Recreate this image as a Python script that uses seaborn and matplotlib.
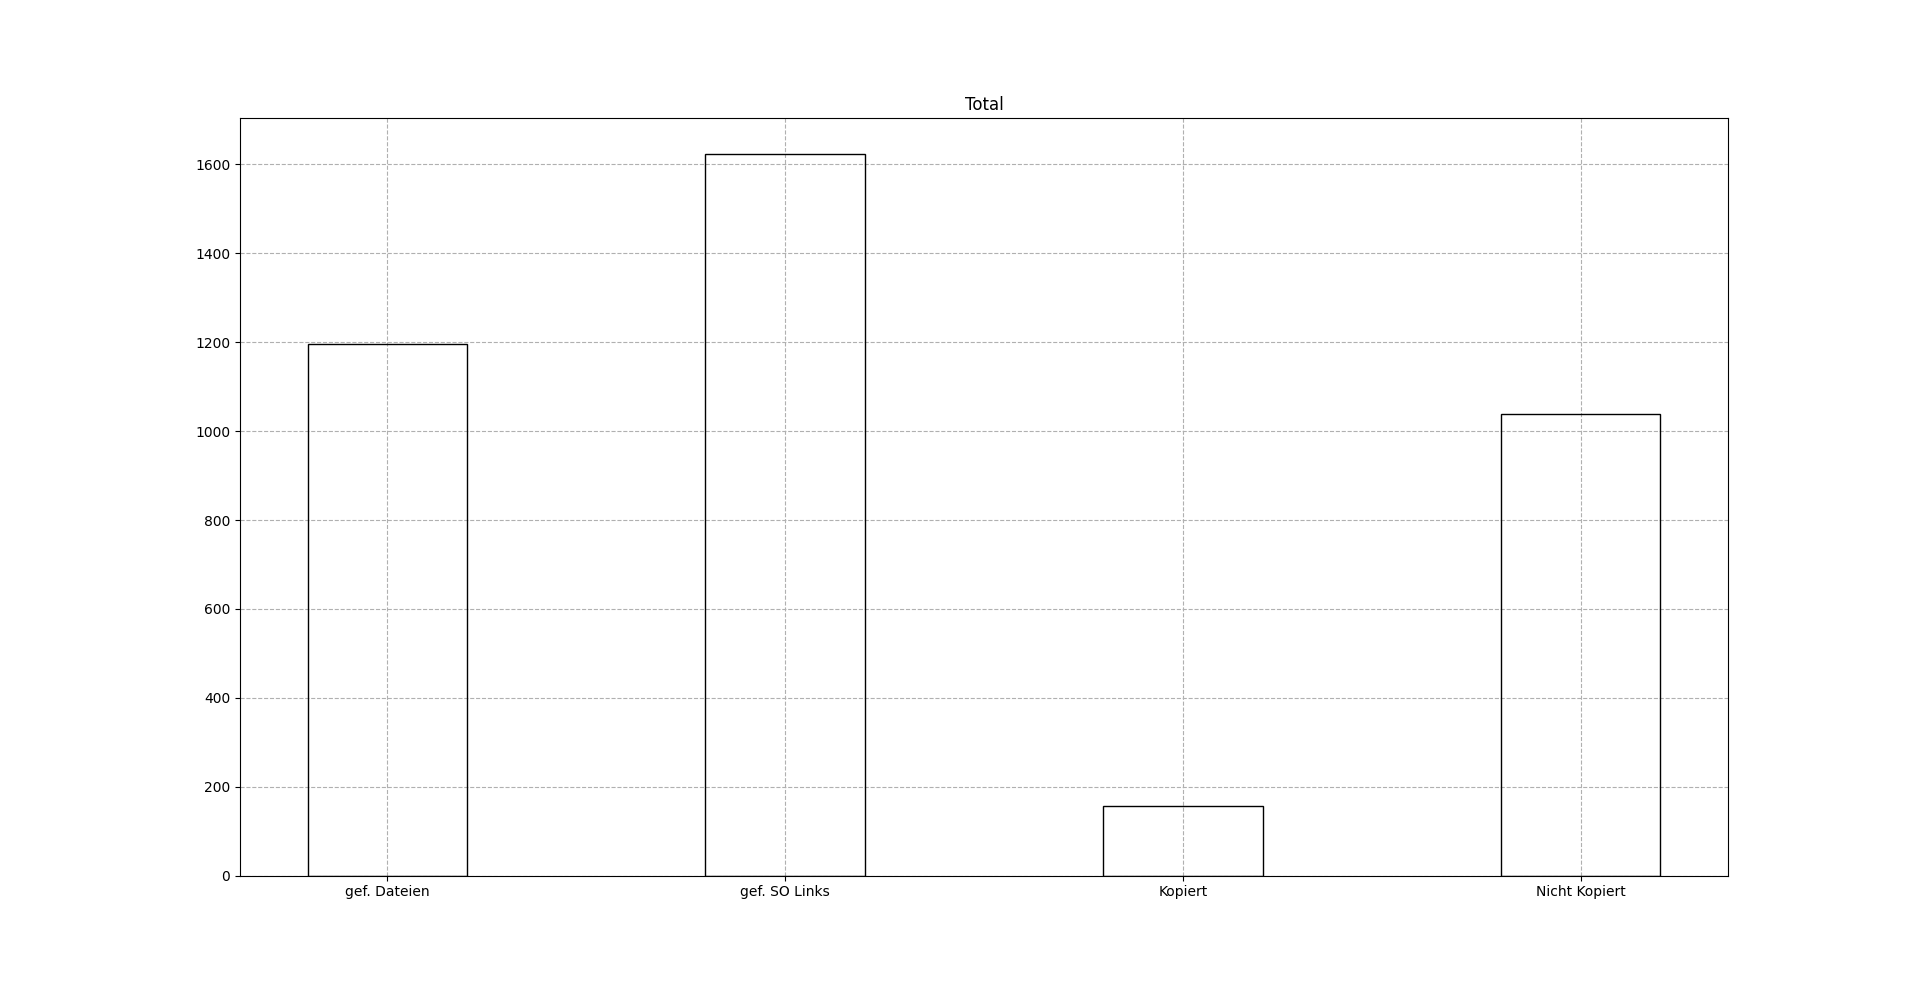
import seaborn as sns
import pandas as pd
from matplotlib import pyplot as plt

CATEGORIES: list[str] = ['gef. Dateien', 'gef. SO Links', 'Kopiert', 'Nicht Kopiert']
COUNTS: list[int] = [1195, 1623, 156, 1038]
TITLE: str = 'Total'

if __name__ == '__main__':
    data_pd = pd.DataFrame({'cat': CATEGORIES, 'count': COUNTS})

    fig, ax = plt.subplots(figsize=(19.2, 9.84), dpi=100)
    sns.barplot(x='cat', y='count', data=data_pd, width=0.4, fill=False,
                color='black', linewidth=1.0, err_kws={'linewidth': 0}, ax=ax)
    # make the bars look like the plain matplotlib ones
    for patch in ax.patches:
        patch.set_edgecolor('black')
        patch.set_facecolor('none')
        patch.set_linewidth(1.0)

    ax.set_xlim(-0.37, len(CATEGORIES) - 1 + 0.37)
    ax.set_ylim(0, max(COUNTS) * 1.05)
    ax.grid(True, linestyle='--', color='#b0b0b0', linewidth=0.8)
    ax.set_axisbelow(True)
    ax.set_xlabel('')
    ax.set_ylabel('')
    ax.set_title(TITLE)
    plt.savefig('out.png', dpi=100)
